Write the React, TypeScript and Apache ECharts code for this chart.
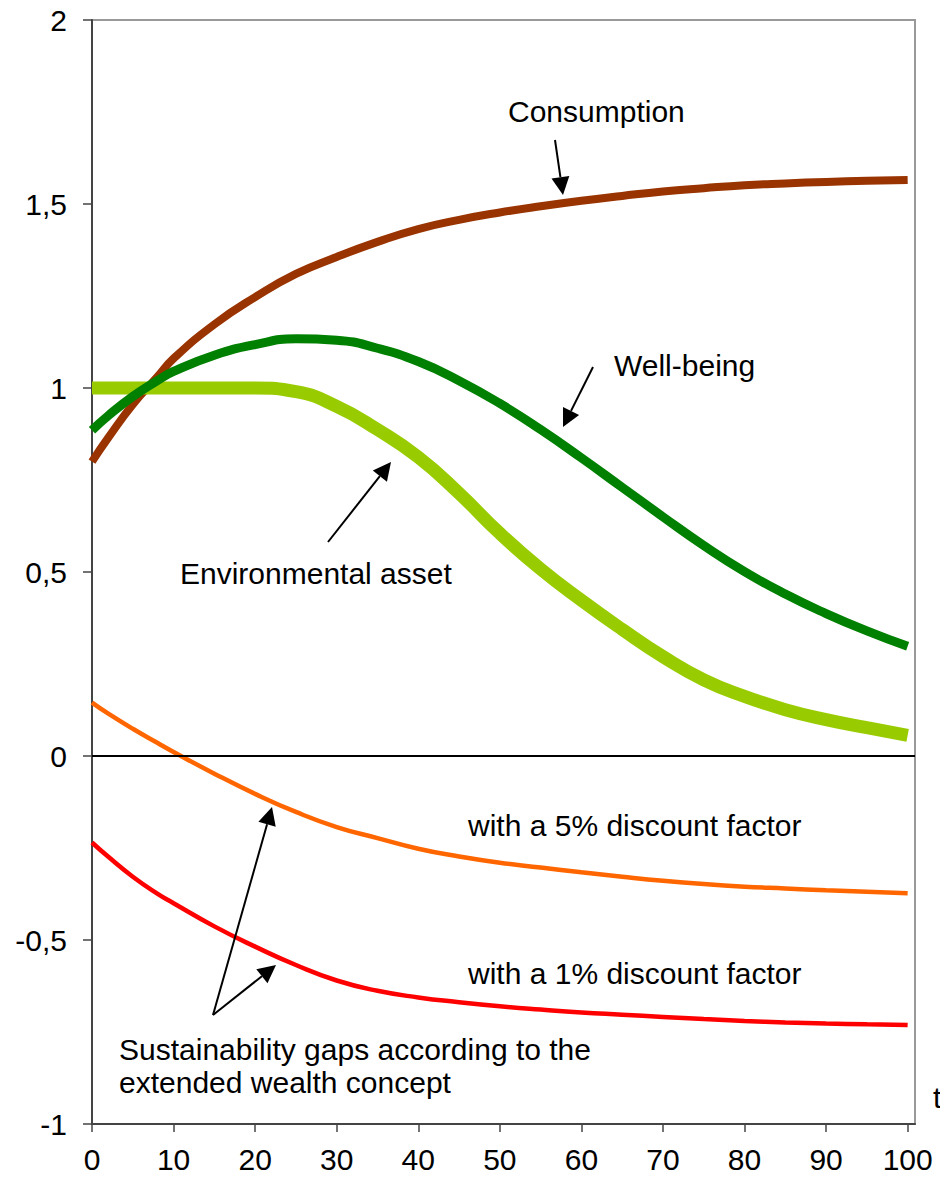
import React, { useEffect, useRef } from "react";
import * as echarts from "echarts";

const T = [0, 2, 5, 8, 10, 15, 20, 25, 30, 35, 40, 45, 50, 55, 60, 65, 70, 75, 80, 85, 90, 95, 100];
const consumption = [0.8, 0.865, 0.955, 1.03, 1.08, 1.173, 1.247, 1.31, 1.356, 1.397, 1.432, 1.457, 1.477, 1.494, 1.509, 1.522, 1.534, 1.543, 1.551, 1.556, 1.56, 1.563, 1.565];
const wellBeing = [0.885, 0.925, 0.977, 1.02, 1.045, 1.089, 1.118, 1.134, 1.13, 1.108, 1.072, 1.02, 0.958, 0.887, 0.81, 0.73, 0.65, 0.572, 0.501, 0.44, 0.387, 0.34, 0.298];
const envAsset = [1.0, 1.0, 1.0, 1.0, 1.0, 1.0, 1.0, 0.99, 0.95, 0.887, 0.812, 0.714, 0.605, 0.508, 0.423, 0.344, 0.27, 0.207, 0.162, 0.126, 0.099, 0.077, 0.056];
const gap5 = [0.145, 0.115, 0.074, 0.036, 0.011, -0.048, -0.103, -0.152, -0.193, -0.223, -0.252, -0.273, -0.29, -0.303, -0.316, -0.328, -0.339, -0.348, -0.355, -0.36, -0.365, -0.369, -0.373];
const gap1 = [-0.235, -0.274, -0.328, -0.374, -0.4, -0.463, -0.518, -0.568, -0.61, -0.638, -0.656, -0.669, -0.68, -0.689, -0.697, -0.703, -0.709, -0.715, -0.72, -0.724, -0.727, -0.729, -0.731];
const xTicks = [0, 10, 20, 30, 40, 50, 60, 70, 80, 90, 100];

const FONT = '"Liberation Sans", Arial, sans-serif';

function arrow(x1: number, y1: number, x2: number, y2: number) {
  const dx = x2 - x1;
  const dy = y2 - y1;
  const len = Math.sqrt(dx * dx + dy * dy);
  const ux = dx / len;
  const uy = dy / len;
  const hl = 18;
  const hw = 9;
  const bx = x2 - ux * hl;
  const by = y2 - uy * hl;
  return [
    {
      type: "line",
      shape: { x1, y1, x2: bx, y2: by },
      style: { stroke: "#000", lineWidth: 2 },
      z: 100,
    },
    {
      type: "polygon",
      shape: {
        points: [
          [x2, y2],
          [bx - uy * hw, by + ux * hw],
          [bx + uy * hw, by - ux * hw],
        ],
      },
      style: { fill: "#000" },
      z: 100,
    },
  ];
}

function label(text: string, x: number, y: number) {
  return {
    type: "text",
    x,
    y,
    style: {
      text,
      font: `30px ${FONT}`,
      fill: "#000",
      textAlign: "left",
      textVerticalAlign: "middle",
    },
    z: 100,
  };
}

export default function App() {
  const ref = useRef<HTMLDivElement>(null);
  useEffect(() => {
    if (!ref.current) return;
    const chart = echarts.init(ref.current, undefined, { renderer: "svg" });
    const mk = (arr: number[]) => T.map((t, i) => [t, arr[i]]);
    const line = (name: string, arr: number[], color: string, width: number, extra: any = {}) => ({
      type: "line",
      name,
      data: mk(arr),
      showSymbol: false,
      symbol: "none",
      smooth: 0.5,
      lineStyle: { color, width, cap: "butt" },
      itemStyle: { color },
      ...extra,
    });
    chart.setOption({
      animation: false,
      backgroundColor: "#fff",
      textStyle: { fontFamily: FONT },
      grid: {
        left: 92,
        right: 25,
        top: 20,
        bottom: 60,
        show: true,
        borderColor: "#999",
        borderWidth: 2,
      },
      xAxis: {
        type: "value",
        min: 0,
        max: 100.9,
        interval: 10,
        axisLine: { show: true, onZero: false, lineStyle: { color: "#444", width: 2 } },
        axisTick: { show: true, length: 8, customValues: xTicks, lineStyle: { color: "#444", width: 1.5 } },
        axisLabel: {
          customValues: xTicks,
          margin: 20,
          fontSize: 30,
          color: "#000",
          fontFamily: FONT,
        },
        splitLine: { show: false },
      },
      yAxis: {
        type: "value",
        min: -1,
        max: 2,
        interval: 0.5,
        axisLine: { show: true, onZero: false, lineStyle: { color: "#444", width: 2 } },
        axisTick: { show: true, length: 9, lineStyle: { color: "#444", width: 1.5 } },
        axisLabel: {
          margin: 25,
          fontSize: 30,
          color: "#000",
          fontFamily: FONT,
          formatter: (v: number) => String(v).replace(".", ","),
        },
        splitLine: { show: false },
      },
      series: [
        line("with a 1% discount factor", gap1, "#FF0000", 4.5),
        line("with a 5% discount factor", gap5, "#FF6600", 4.5, {
          markLine: {
            silent: true,
            symbol: "none",
            label: { show: false },
            lineStyle: { color: "#000", width: 1.8, type: "solid" },
            data: [{ yAxis: 0 }],
          },
        }),
        line("Consumption", consumption, "#993300", 8),
        line("Environmental asset", envAsset, "#99CC00", 13),
        line("Well-being", wellBeing, "#008000", 9),
      ],
      graphic: [
        label("Consumption", 508, 111),
        ...arrow(555, 140, 563, 195),
        label("Well-being", 614, 365),
        ...arrow(593, 367, 563, 427),
        label("Environmental asset", 180, 573),
        ...arrow(328, 542, 391, 462),
        label("with a 5% discount factor", 468, 825),
        label("with a 1% discount factor", 468, 973),
        label("Sustainability gaps according to the", 119, 1049),
        label("extended wealth concept", 119, 1082),
        ...arrow(213, 1015, 272, 807),
        ...arrow(213, 1015, 276, 965),
        label("t", 933, 1097),
      ],
    });
    return () => chart.dispose();
  }, []);
  return (
    <div
      ref={ref}
      style={{ position: "absolute", left: 0, top: 0, width: 940, height: 1184 }}
    />
  );
}
